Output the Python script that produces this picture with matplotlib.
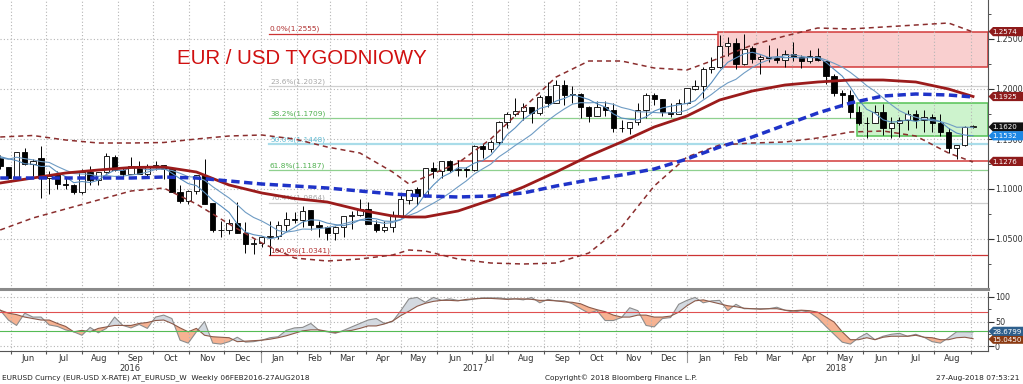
import numpy as np
import pandas as pd
import matplotlib
matplotlib.use('Agg')
import matplotlib.pyplot as plt
import matplotlib.dates as mdates
import matplotlib.transforms as mtransforms
from matplotlib.patches import Rectangle, Polygon

plt.rcParams['font.family'] = ['DejaVu Sans']

# weekly EUR/USD candles, weeks starting 2016-05-16
first_week = '2016-05-16'
opens = [1.1310, 1.1225, 1.1115, 1.1365, 1.1250, 1.1315, 1.1115, 1.1135, 1.1050, 1.1040,
         1.0975, 1.1175, 1.1085, 1.1165, 1.1325, 1.1195, 1.1155, 1.1230, 1.1155, 1.1225,
         1.1240, 1.1200, 1.0970, 1.0880, 1.0980, 1.1140, 1.0855, 1.0585, 1.0590, 1.0660,
         1.0560, 1.0450, 1.0455, 1.0520, 1.0530, 1.0640, 1.0700, 1.0695, 1.0785, 1.0640,
         1.0615, 1.0560, 1.0620, 1.0730, 1.0740, 1.0800, 1.0650, 1.0590, 1.0615, 1.0725,
         1.0895, 1.0995, 1.0930, 1.1205, 1.1180, 1.1280, 1.1195, 1.1200, 1.1195, 1.1425,
         1.1400, 1.1470, 1.1665, 1.1750, 1.1775, 1.1820, 1.1760, 1.1925, 1.1860, 1.2035,
         1.1945, 1.1950, 1.1815, 1.1730, 1.1820, 1.1785, 1.1605, 1.1610, 1.1665, 1.1790,
         1.1935, 1.1895, 1.1770, 1.1750, 1.1860, 1.2005, 1.2030, 1.2200, 1.2220, 1.2425,
         1.2460, 1.2250, 1.2405, 1.2295, 1.2315, 1.2310, 1.2290, 1.2350, 1.2320, 1.2280,
         1.2330, 1.2285, 1.2130, 1.1960, 1.1940, 1.1770, 1.1655, 1.1660, 1.1765, 1.1610,
         1.1655, 1.1685, 1.1745, 1.1685, 1.1720, 1.1655, 1.1570, 1.1410, 1.1440, 1.1620]
highs = [1.1345, 1.1225, 1.1375, 1.1415, 1.1300, 1.1428, 1.1180, 1.1185, 1.1120, 1.1050,
         1.1200, 1.1235, 1.1170, 1.1365, 1.1340, 1.1225, 1.1325, 1.1280, 1.1255, 1.1280,
         1.1240, 1.1205, 1.1040, 1.0990, 1.1145, 1.1300, 1.0865, 1.0685, 1.0700, 1.0875,
         1.0670, 1.0500, 1.0525, 1.0685, 1.0685, 1.0775, 1.0775, 1.0830, 1.0790, 1.0680,
         1.0630, 1.0630, 1.0715, 1.0780, 1.0905, 1.0875, 1.0690, 1.0680, 1.0780, 1.0950,
         1.0995, 1.1025, 1.1215, 1.1270, 1.1285, 1.1295, 1.1295, 1.1225, 1.1445, 1.1455,
         1.1490, 1.1680, 1.1775, 1.1910, 1.1860, 1.1825, 1.1940, 1.2070, 1.2090, 1.2090,
         1.2035, 1.1960, 1.1830, 1.1880, 1.1880, 1.1860, 1.1690, 1.1675, 1.1860, 1.1960,
         1.1960, 1.1900, 1.1860, 1.1905, 1.2005, 1.2090, 1.2220, 1.2325, 1.2537, 1.2520,
         1.2510, 1.2555, 1.2430, 1.2345, 1.2445, 1.2410, 1.2390, 1.2475, 1.2345, 1.2395,
         1.2415, 1.2285, 1.2150, 1.1995, 1.1995, 1.1830, 1.1725, 1.1840, 1.1850, 1.1720,
         1.1720, 1.1790, 1.1790, 1.1790, 1.1750, 1.1750, 1.1610, 1.1445, 1.1630, 1.1640]
lows = [1.1200, 1.1100, 1.1095, 1.1240, 1.1130, 1.0912, 1.0955, 1.1000, 1.1000, 1.0950,
        1.0950, 1.1045, 1.1045, 1.1160, 1.1180, 1.1125, 1.1150, 1.1150, 1.1120, 1.1190,
        1.1105, 1.0970, 1.0865, 1.0850, 1.0950, 1.0850, 1.0570, 1.0520, 1.0550, 1.0560,
        1.0365, 1.0352, 1.0420, 1.0341, 1.0500, 1.0580, 1.0660, 1.0620, 1.0590, 1.0520,
        1.0495, 1.0495, 1.0525, 1.0605, 1.0730, 1.0650, 1.0570, 1.0570, 1.0570, 1.0720,
        1.0850, 1.0840, 1.0925, 1.1110, 1.1110, 1.1170, 1.1130, 1.1120, 1.1180, 1.1310,
        1.1370, 1.1440, 1.1610, 1.1730, 1.1690, 1.1660, 1.1740, 1.1825, 1.1860, 1.1840,
        1.1865, 1.1715, 1.1670, 1.1730, 1.1730, 1.1575, 1.1575, 1.1555, 1.1640, 1.1715,
        1.1840, 1.1730, 1.1720, 1.1750, 1.1855, 1.1995, 1.1915, 1.2165, 1.2215, 1.2335,
        1.2205, 1.2240, 1.2260, 1.2155, 1.2275, 1.2260, 1.2225, 1.2285, 1.2215, 1.2265,
        1.2280, 1.2055, 1.1935, 1.1825, 1.1715, 1.1645, 1.1510, 1.1660, 1.1540, 1.1510,
        1.1525, 1.1590, 1.1615, 1.1575, 1.1575, 1.1530, 1.1365, 1.1300, 1.1430, 1.1610]
closes = [1.1225, 1.1115, 1.1365, 1.1250, 1.1280, 1.1115, 1.1135, 1.1050, 1.1040, 1.0975,
          1.1175, 1.1085, 1.1165, 1.1325, 1.1195, 1.1155, 1.1230, 1.1155, 1.1225, 1.1240,
          1.1200, 1.0970, 1.0880, 1.0980, 1.1140, 1.0855, 1.0585, 1.0590, 1.0660, 1.0560,
          1.0450, 1.0455, 1.0520, 1.0530, 1.0640, 1.0700, 1.0695, 1.0785, 1.0640, 1.0615,
          1.0560, 1.0620, 1.0730, 1.0740, 1.0800, 1.0650, 1.0590, 1.0615, 1.0725, 1.0895,
          1.0995, 1.0930, 1.1205, 1.1180, 1.1280, 1.1195, 1.1200, 1.1195, 1.1425, 1.1400,
          1.1470, 1.1665, 1.1750, 1.1775, 1.1820, 1.1760, 1.1925, 1.1860, 1.2035, 1.1945,
          1.1950, 1.1815, 1.1730, 1.1820, 1.1785, 1.1605, 1.1610, 1.1665, 1.1790, 1.1935,
          1.1895, 1.1770, 1.1750, 1.1860, 1.2005, 1.2030, 1.2200, 1.2220, 1.2425, 1.2460,
          1.2250, 1.2405, 1.2295, 1.2315, 1.2310, 1.2290, 1.2350, 1.2320, 1.2280, 1.2330,
          1.2285, 1.2130, 1.1960, 1.1940, 1.1770, 1.1655, 1.1660, 1.1765, 1.1610, 1.1655,
          1.1685, 1.1745, 1.1685, 1.1720, 1.1655, 1.1570, 1.1410, 1.1440, 1.1620, 1.1625]
# closes from Feb 2016 (before the visible window) for the short averages
early_closes = [1.1255, 1.1130, 1.0935, 1.1005, 1.1155, 1.1270, 1.1165,
                1.1390, 1.1400, 1.1285, 1.1225, 1.1455, 1.1405, 1.1310]

# long studies at these week numbers
study_weeks = [0, 4, 8, 12, 16, 20, 24, 28, 32, 36, 40, 44, 48, 50, 52, 56, 60, 64, 68, 72,
               76, 80, 84, 88, 92, 96, 100, 104, 108, 112, 116, 119]
ma_red = [1.106, 1.111, 1.116, 1.119, 1.1215, 1.122, 1.117, 1.104, 1.096, 1.0905, 1.087,
          1.079, 1.073, 1.072, 1.072, 1.078, 1.089, 1.102, 1.117, 1.133, 1.147, 1.162,
          1.173, 1.189, 1.198, 1.204, 1.207, 1.209, 1.209, 1.207, 1.200, 1.1925]
ma_blue = [1.111, 1.111, 1.111, 1.111, 1.111, 1.112, 1.111, 1.108, 1.105, 1.103, 1.101,
           1.098, 1.095, 1.094, 1.093, 1.092, 1.093, 1.096, 1.103, 1.109, 1.114, 1.120,
           1.130, 1.142, 1.152, 1.164, 1.176, 1.186, 1.193, 1.195, 1.194, 1.192]
band_up = [1.152, 1.1535, 1.149, 1.146, 1.146, 1.1465, 1.150, 1.153, 1.154, 1.150, 1.142,
           1.136, 1.117, 1.105, 1.112, 1.126, 1.150, 1.181, 1.212, 1.228, 1.228, 1.221,
           1.219, 1.231, 1.244, 1.253, 1.261, 1.260, 1.262, 1.264, 1.266, 1.257]
band_low = [1.059, 1.071, 1.080, 1.089, 1.098, 1.101, 1.085, 1.065, 1.046, 1.031, 1.028,
            1.030, 1.034, 1.039, 1.038, 1.030, 1.026, 1.025, 1.026, 1.036, 1.062, 1.103,
            1.132, 1.144, 1.146, 1.147, 1.151, 1.157, 1.158, 1.153, 1.136, 1.127]

# oscillator (lower panel)
osc_fast = [73, 53, 42, 67, 59, 59, 43, 40, 33, 29, 22, 38, 27, 36, 59, 42, 37, 44, 36, 59,
            63, 56, 12, 6, 29, 50, 6, 4, 9, 18, 8, 9, 12, 17, 19, 32, 37, 38, 46, 32,
            29, 26, 32, 39, 46, 53, 56, 46, 50, 72, 96, 99, 89, 99, 93, 96, 93, 93, 96, 98,
            98, 98, 96, 96, 94, 99, 88, 95, 92, 92, 86, 76, 67, 72, 52, 52, 58, 78, 72, 42,
            39, 56, 58, 85, 93, 99, 88, 92, 93, 72, 85, 76, 76, 76, 76, 79, 73, 69, 72, 69,
            57, 40, 24, 8, 4, 17, 26, 13, 20, 24, 26, 20, 24, 18, 9, 6, 17, 29, 29, 28.68]
osc_slow = [73, 67, 64, 59, 56, 53, 53, 46, 40, 29, 32, 29, 36, 39, 42, 42, 42, 46, 48, 52,
            53, 46, 37, 29, 36, 22, 19, 18, 17, 9, 10, 11, 12, 14, 17, 21, 26, 31, 33, 33,
            30, 28, 30, 32, 36, 41, 41, 45, 51, 62, 71, 81, 87, 91, 93, 93, 92, 95, 96, 97,
            97, 96, 95, 96, 96, 95, 93, 93, 92, 90, 89, 86, 79, 74, 70, 63, 59, 59, 63, 63,
            59, 59, 61, 69, 82, 92, 94, 90, 86, 82, 80, 77, 76, 75, 76, 76, 73, 72, 73, 72,
            69, 59, 49, 29, 13, 13, 17, 13, 18, 20, 20, 20, 22, 18, 17, 13, 13, 17, 18, 15.05]

fib_levels = [1.2555, 1.2032, 1.1709, 1.1448, 1.1187, 1.0864, 1.0341]
fib_names = ['0.0%', '23.6%', '38.2%', '50.0%', '61.8%', '76.4%', '100.0%']
fib_line_colors = ['#cc3333', '#cfcfcf', '#8fd08f', '#a9dce9', '#8fd08f', '#cfcfcf', '#cc3333']
fib_text_colors = ['#b03030', '#a8a8a8', '#50b050', '#60bcd4', '#50b050', '#a8a8a8', '#b03030']

# --- x positions ---
weeks = pd.date_range(first_week, periods=len(closes), freq='7D')
xs = mdates.date2num(weeks) + 7
sx = xs[study_weeks]
all_close = pd.Series(early_closes + closes)
sma5 = all_close.rolling(5).mean().values[len(early_closes):]
sma10 = all_close.rolling(10).mean().values[len(early_closes):]

fig = plt.figure(figsize=(10.23, 3.84), dpi=100)
ax = fig.add_axes([0, 95 / 384, 988 / 1023, 289 / 384])
ax2 = fig.add_axes([0, 33 / 384, 988 / 1023, 59 / 384], sharex=ax)

ax.set_ylim(1.000, 1.289)
ax.set_xlim(xs[0] - 0.17, xs[0] + 120.83 * 7)
ax2.set_ylim(-10, 110)

# grid
ax.xaxis.set_major_locator(mdates.MonthLocator())
ax.xaxis.set_minor_locator(mdates.MonthLocator(bymonthday=16))
ax.grid(axis='x', which='major', color='#b5b5b5', lw=0.8, ls=(0, (1, 2)))
for yv in [1.05, 1.10, 1.15, 1.20, 1.25]:
    ax.axhline(yv, color='#b5b5b5', lw=0.8, ls=(0, (1, 2)), zorder=0)

# fibonacci retracement from the Jan 2017 low
x_fib = xs[33] - 1
for lvl, nm, lc, tc in zip(fib_levels, fib_names, fib_line_colors, fib_text_colors):
    lw = 1.6 if nm == '50.0%' else 0.9
    ax.plot([x_fib, ax.get_xlim()[1]], [lvl, lvl], color=lc, lw=lw, zorder=1)
    ax.text(x_fib + 1, lvl + 0.0012, f'{nm}({lvl:.4f})', color=tc, fontsize=5.3,
            va='bottom', ha='left', zorder=1)

# zones
x_end = ax.get_xlim()[1]
ax.add_patch(Rectangle((xs[88] - 1, 1.2225), x_end - xs[88] + 1, 1.2574 - 1.2225,
                       facecolor='#f9cfcf', edgecolor='#d23a3a', lw=1.1, zorder=1))
ax.add_patch(Rectangle((xs[105] - 1, 1.1525), x_end - xs[105] + 1, 1.1860 - 1.1525,
                       facecolor='#cdf3cd', edgecolor='#55c255', lw=1.1, zorder=1))
ax.plot([xs[56], x_end], [1.1276, 1.1276], color='#d23a3a', lw=1.1, zorder=1)

# candles
o = np.array(opens); c = np.array(closes)
ax.vlines(xs, lows, highs, color='black', lw=0.7, zorder=3)
body_lo = np.minimum(o, c)
body_h = np.maximum(np.abs(c - o), 0.0006)
cols = ['black' if cc < oo else 'white' for oo, cc in zip(o, c)]
ax.bar(xs, body_h, bottom=body_lo, width=4.5, color=cols, edgecolor='black', lw=0.6, zorder=4)

# studies
ax.plot(xs, sma10, color='#6f9cc4', lw=0.8, zorder=5)
ax.plot(xs, sma5, color='#5a8fbf', lw=0.8, zorder=5)
ax.plot(sx, band_up, color='#8b2e2e', lw=1.1, ls=(0, (3.3, 2.6)), zorder=5)
ax.plot(sx, band_low, color='#8b2e2e', lw=1.1, ls=(0, (3.3, 2.6)), zorder=5)
ax.plot(sx, ma_red, color='#9b1b1b', lw=2.0, zorder=6)
ax.plot(sx, ma_blue, color='#1f33c8', lw=2.5, ls=(0, (2.4, 1.3)), zorder=6)

ax.text(302 / 988, 1.2305, 'EUR / USD TYGODNIOWY', transform=ax.get_yaxis_transform(),
        color='#d01010', fontsize=14.7, ha='center', va='center',
        family=['Liberation Sans', 'DejaVu Sans'])

# right axis
ax.yaxis.tick_right()
ax.set_yticks([1.05, 1.10, 1.15, 1.20, 1.25])
ax.set_yticks([1.025, 1.075, 1.125, 1.175, 1.225, 1.275], minor=True)
ax.yaxis.set_major_formatter(plt.FuncFormatter(lambda v, p: f'{v:.4f}'))
ax.tick_params(axis='y', which='major', length=4, labelsize=5.8, pad=1, colors='#333333')
ax.tick_params(axis='y', which='minor', length=2.5, colors='#333333')
ax.tick_params(axis='x', which='both', length=0, labelbottom=False)
for s in ['left', 'top']:
    ax.spines[s].set_visible(False)
ax.spines['right'].set_color('#555555')
ax.spines['right'].set_linewidth(0.8)
ax.spines['bottom'].set_color('#8a8a8a')
ax.spines['bottom'].set_linewidth(2.2)

# lower panel
fast = np.array(osc_fast, dtype=float); slow = np.array(osc_slow, dtype=float)
ax2.fill_between(xs, fast, slow, where=fast >= slow, interpolate=True, color='#d3d9e0', lw=0)
ax2.fill_between(xs, fast, slow, where=fast < slow, interpolate=True, color='#f6b292', lw=0)
ax2.plot(xs, fast, color='#8c8c8c', lw=0.8)
ax2.plot(xs, slow, color='#8b5a4a', lw=0.8)
ax2.axhline(70, color='#e05050', lw=0.8)
ax2.axhline(30, color='#55bb55', lw=0.8)
for yv in [0, 50, 100]:
    ax2.axhline(yv, color='#b5b5b5', lw=0.8, ls=(0, (1, 2)), zorder=0)
ax2.grid(axis='x', which='major', color='#b5b5b5', lw=0.8, ls=(0, (1, 2)))
ax2.yaxis.tick_right()
ax2.set_yticks([0, 50, 100])
ax2.set_yticks([25, 75], minor=True)
ax2.tick_params(axis='y', which='major', length=4, labelsize=5.8, pad=1, colors='#333333')
ax2.tick_params(axis='y', which='minor', length=2.5, colors='#333333')
ax2.xaxis.set_major_formatter(plt.NullFormatter())
ax2.xaxis.set_minor_formatter(mdates.DateFormatter('%b'))
ax2.tick_params(axis='x', which='major', length=2, color='#555555', direction='out')
ax2.tick_params(axis='x', which='minor', length=0, labelsize=6, pad=2, colors='#333333')
for s in ['left', 'top']:
    ax2.spines[s].set_visible(False)
for s in ['right', 'bottom']:
    ax2.spines[s].set_color('#555555')
    ax2.spines[s].set_linewidth(0.8)


def tag(a, y, text, fc):
    # Bloomberg-style value flag on the right edge, in pixels
    ident = mtransforms.IdentityTransform()
    yd = a.transData.transform((a.get_xlim()[0], y))[1]
    x0, x1, h = 988.5, 1023, 4.6
    verts = [(x0, yd), (x0 + 4.5, yd + h), (x1, yd + h), (x1, yd - h), (x0 + 4.5, yd - h)]
    fig.add_artist(Polygon(verts, closed=True, transform=ident, fc=fc, ec='none', zorder=10))
    fig.text(x0 + 4.2, yd - 0.3, text, transform=ident, color='white', fontsize=5.1,
             ha='left', va='center', zorder=11)


tag(ax, 1.2574, '1.2574', '#8e1b1b')
tag(ax, 1.1925, '1.1925', '#8e1b1b')
tag(ax, 1.1620, '1.1620', '#111111')
tag(ax, 1.1532, '1.1532', '#1e88e5')
tag(ax, 1.1276, '1.1276', '#8e1b1b')
tag(ax2, 14, '15.0450', '#8b3a12')
tag(ax2, 30, '28.6799', '#2e5f8c')

trans = mtransforms.blended_transform_factory(ax2.transData, ax2.transAxes)
for d in ['2017-01-01', '2018-01-01']:
    xd = mdates.datestr2num(d)
    ax2.plot([xd, xd], [-0.03, -0.19], transform=trans, color='#999999', lw=0.8, clip_on=False)
for yr, d in [('2016', '2016-09-11'), ('2017', '2017-07-02'), ('2018', '2018-05-09')]:
    ax2.text(mdates.datestr2num(d), -0.29, yr, transform=trans, ha='center', va='center',
             fontsize=6, color='#333333')

fig.text(2 / 1023, 1 - 378 / 384, 'EURUSD Curncy (EUR-USD X-RATE) AT_EURUSD_W  Weekly 06FEB2016-27AUG2018',
         fontsize=5.3, va='center', ha='left', color='#222222')
fig.text(545 / 1023, 1 - 378 / 384, 'Copyright\u00a9 2018 Bloomberg Finance L.P.',
         fontsize=5.3, va='center', ha='left', color='#222222')
fig.text(1020 / 1023, 1 - 378 / 384, '27-Aug-2018 07:53:21',
         fontsize=5.3, va='center', ha='right', color='#222222')

fig.savefig('out.png', dpi=100)
